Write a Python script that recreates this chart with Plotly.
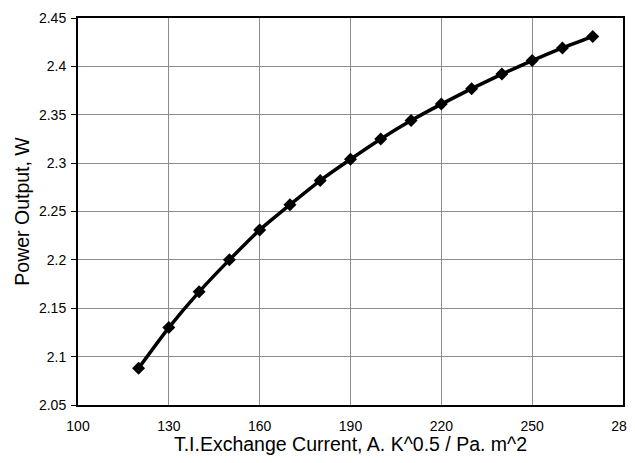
import plotly.graph_objects as go

x_current = [120, 130, 140, 150, 160, 170, 180, 190, 200, 210, 220, 230, 240, 250, 260, 270]
power_output = [2.088, 2.130, 2.167, 2.200, 2.231, 2.257, 2.282, 2.304, 2.325, 2.344, 2.361, 2.377, 2.392, 2.406, 2.419, 2.431]
x_ticks = [100, 130, 160, 190, 220, 250, 280]
y_ticks = [2.05, 2.1, 2.15, 2.2, 2.25, 2.3, 2.35, 2.4, 2.45]
y_tick_labels = ["2.05", "2.1", "2.15", "2.2", "2.25", "2.3", "2.35", "2.4", "2.45"]

fig = go.Figure()
fig.add_trace(go.Scatter(
    x=x_current, y=power_output, mode="lines+markers",
    line=dict(color="black", width=3.5, shape="spline", smoothing=0.6),
    marker=dict(symbol="diamond", size=10, color="black"),
    showlegend=False,
))

font = "Arial, Liberation Sans, sans-serif"
fig.update_layout(
    width=627, height=447,
    margin=dict(l=70, r=12, t=10, b=50, autoexpand=False),
    paper_bgcolor="white", plot_bgcolor="white",
    font=dict(family=font, color="black"),
)
fig.update_xaxes(
    range=[100, 280], tickvals=x_ticks, ticktext=[str(v) for v in x_ticks],
    showgrid=True, gridcolor="#8c8c8c", gridwidth=1,
    showline=True, linecolor="black", linewidth=2, mirror=True,
    ticks="", tickfont=dict(size=14, family=font), ticklabelstandoff=7,
    ticklabeloverflow="allow",
    title=dict(text="T.I.Exchange Current, A. K^0.5 / Pa. m^2", font=dict(size=19.5, family=font), standoff=10),
    zeroline=False, automargin=False,
)
fig.update_yaxes(
    range=[2.05, 2.45], tickvals=y_ticks, ticktext=y_tick_labels,
    showgrid=True, gridcolor="#8c8c8c", gridwidth=1,
    showline=True, linecolor="black", linewidth=2, mirror=True,
    ticks="outside", ticklen=5, tickcolor="black",
    tickfont=dict(size=14, family=font), ticklabelstandoff=2,
    ticklabeloverflow="allow",
    title=dict(text="Power Output, W", font=dict(size=19.5, family=font), standoff=4),
    zeroline=False, automargin=False,
)

fig.write_html("out.html")
